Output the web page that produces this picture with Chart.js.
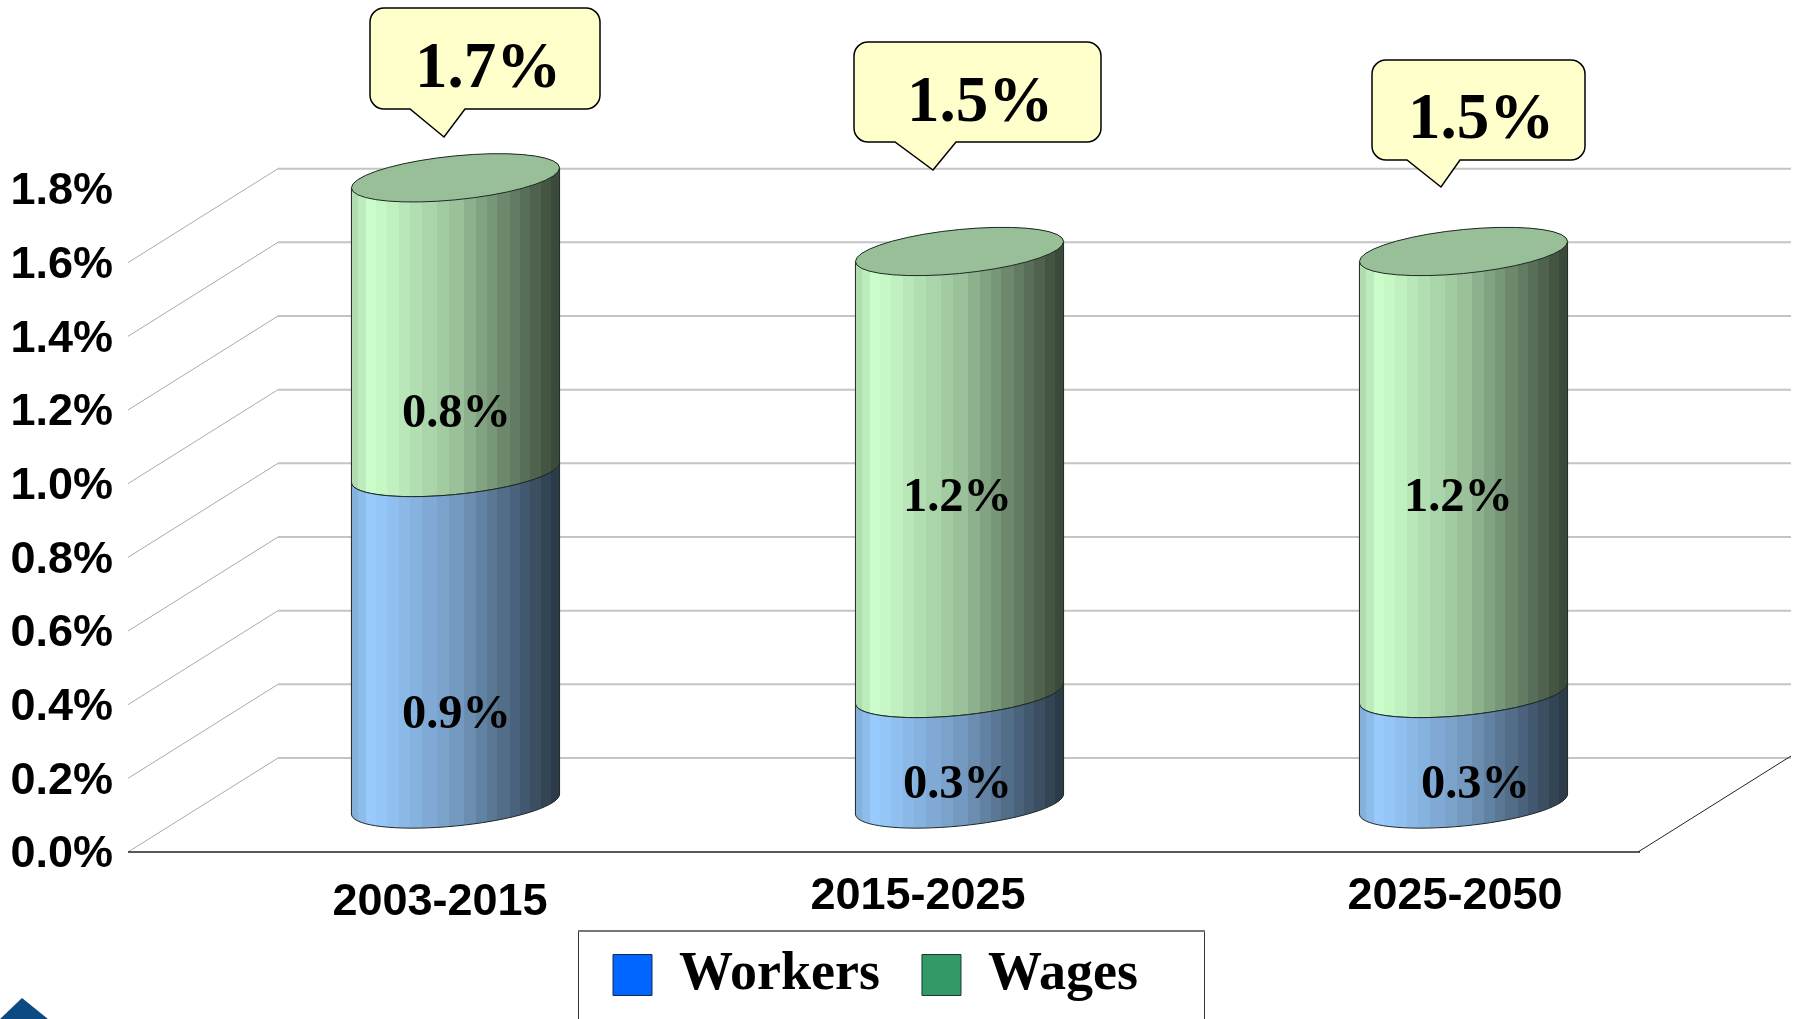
<!DOCTYPE html>
<html><head><meta charset="utf-8">
<style>html,body{margin:0;padding:0;background:#fff}canvas{display:block}</style>
<script src="https://cdn.jsdelivr.net/npm/chart.js@4/dist/chart.umd.js"></script>
</head><body><canvas id="c" width="1800" height="1019"></canvas>
<script>
const periods = ['2003-2015','2015-2025','2025-2050'];
const workers = [0.9,0.3,0.3];
const wages = [0.8,1.2,1.2];
const yTickLabels = ['0.0%','0.2%','0.4%','0.6%','0.8%','1.0%','1.2%','1.4%','1.6%','1.8%'];
const wallLevels = [0,0.2,0.4,0.6,0.8,1.0,1.2,1.4,1.6];

// --- placement and style only ---
const SANS='"Liberation Sans"', SERIF='"Liberation Serif"';
const DEPTH={dx:150,dy:-94}, BAR={dx:75.5,dy:-48,k:10,b:22};
const xLabelNudge=[[60,6],[34,0],[67,0]];
const wagesLabelNudge=[[1,89],[-2,26],[-5,26]];
const workersLabelNudge=[[1,77],[-2,37],[12,37]];
const callouts=[
 {box:[370,8,600,109],tail:[410,465],tip:[444,137],text:[488,70]},
 {box:[854,42,1101,142],tail:[895,956],tip:[933,170],text:[980,104]},
 {box:[1372,60,1585,160],tail:[1407,1460],tip:[1441,187],text:[1481,121]}
];
const PAL=[[153,204,255],[204,255,204]];
const FACETS=[0,.03,.07,.12,.17,.23,.28,.34,.41,.47,.54,.6,.65,.7,.76,.81,.86,.91,.96,1];
function shade(t){const p=[[0,.84],[.1,1],[.5,.76],[1,.27]];for(let i=1;i<p.length;i++){if(t<=p[i][0]){const f=(t-p[i-1][0])/(p[i][0]-p[i-1][0]);return p[i-1][1]+f*(p[i][1]-p[i-1][1]);}}return .27;}
function facetGradient(ctx,l,r,rgb){const g=ctx.createLinearGradient(l,0,r,0);
 for(let i=0;i<FACETS.length-1;i++){const a=FACETS[i],z=FACETS[i+1],s=shade((a+z)/2);
  const c='rgb('+rgb.map(v=>Math.round(v*s)).join(',')+')';g.addColorStop(a,c);g.addColorStop(z,c);}return g;}
function arc(ctx,cx,cy,a,from,to,first){const n=36;for(let i=0;i<=n;i++){const t=from+(to-from)*i/n;
  const px=cx+a*Math.cos(t),py=cy+BAR.b*Math.sin(t)-BAR.k*Math.cos(t);(first&&i===0)?ctx.moveTo(px,py):ctx.lineTo(px,py);}}

Chart.BarElement.prototype.draw=function(ctx){
 const {x,y,base,width}=this.getProps(['x','y','base','width'],true);
 const ds=this.__ds,a=width/2,cx=x+BAR.dx,t=y+BAR.dy,bot=base+BAR.dy;
 ctx.save();
 ctx.beginPath();
 // the lower segment is painted last, so its top edge follows the front of the ring
 if(ds===1) arc(ctx,cx,t,a,Math.PI,2*Math.PI,true);
 else arc(ctx,cx,t,a,Math.PI,0,true);
 arc(ctx,cx,bot,a,0,Math.PI,false);
 ctx.closePath();
 ctx.fillStyle=facetGradient(ctx,cx-a,cx+a,PAL[ds]);ctx.fill();
 ctx.strokeStyle='#1c2a22';ctx.lineWidth=1;
 ctx.beginPath();
 ctx.moveTo(cx-a,t+BAR.k);
 arc(ctx,cx,bot,a,Math.PI,0,false);
 ctx.lineTo(cx+a,t-BAR.k);
 ctx.stroke();
 if(ds===0){ctx.beginPath();arc(ctx,cx,t,a,Math.PI,0,true);ctx.stroke();}
 if(ds===1){ctx.beginPath();arc(ctx,cx,t,a,0,2*Math.PI,true);ctx.closePath();
  ctx.fillStyle='#99BF99';ctx.fill();ctx.stroke();}
 ctx.restore();
};

const scene={id:'scene',
 beforeLayout(chart){const lg=chart.legend;if(!lg||lg.__patched)return;const f=Object.getPrototypeOf(lg).fit;
  lg.fit=function(){f.call(this);this.height=0;};lg.__patched=true;},
 afterLayout(chart){const lg=chart.legend;lg.left=571;lg.right=1400;lg.top=906;lg.bottom=1019;lg.width=829;lg.height=113;},
 beforeDraw(chart){const c=chart.ctx,sx=chart.scales.x,sy=chart.scales.y;
  if(!sx.__moved){sx._labelItems=null;sx.getLabelItems(chart.chartArea).forEach((it,i)=>{it.options.translation[0]+=xLabelNudge[i][0];it.options.translation[1]+=xLabelNudge[i][1];});
   sy._labelItems=null;sy.getLabelItems(chart.chartArea).forEach(it=>{it.options.translation[1]+=3;});sx.__moved=true;}
  [0,1].forEach(d=>chart.getDatasetMeta(d).data.forEach(el=>{el.__ds=d;}));
  // legend frame
  c.save();c.strokeStyle='#333';c.lineWidth=1;c.beginPath();c.moveTo(578.5,1019);c.lineTo(578.5,931);c.moveTo(1204.5,931);c.lineTo(1204.5,1019);c.stroke();
  c.strokeStyle='#777';c.lineWidth=2;c.beginPath();c.moveTo(578,931);c.lineTo(1205,931);c.stroke();
  // corner mark
  c.fillStyle='#0B4A82';c.beginPath();c.moveTo(22,998);c.lineTo(48,1019);c.lineTo(0,1019);c.closePath();c.fill();c.restore();
 },
 beforeDatasetsDraw(chart){const c=chart.ctx,{left,right}=chart.chartArea,y=chart.scales.y;
  c.save();
  wallLevels.forEach(v=>{const py=y.getPixelForValue(v);
   c.strokeStyle='#c4c4c4';c.lineWidth=2;c.beginPath();c.moveTo(left+DEPTH.dx,py+DEPTH.dy);c.lineTo(right+DEPTH.dx+1,py+DEPTH.dy);c.stroke();
   c.strokeStyle='#aaa';c.lineWidth=1;c.beginPath();c.moveTo(left,py);c.lineTo(left+DEPTH.dx,py+DEPTH.dy);c.stroke();});
  const y0=y.getPixelForValue(0);
  c.strokeStyle='#222';c.lineWidth=1.5;c.beginPath();c.moveTo(left,y0);c.lineTo(right,y0);c.stroke();
  c.lineWidth=1;c.beginPath();c.moveTo(right-2,y0);c.lineTo(right+DEPTH.dx+1,y0+DEPTH.dy-2);c.stroke();
  c.restore();
 },
 afterDatasetsDraw(chart){const c=chart.ctx;c.save();c.fillStyle='#000';c.textAlign='center';c.textBaseline='middle';
  c.font='bold 48.5px '+SERIF;
  [[0,workersLabelNudge,workers],[1,wagesLabelNudge,wages]].forEach(([d,nudge,vals])=>{
   chart.getDatasetMeta(d).data.forEach((el,i)=>{const s=el.getProps(['x','y','base'],true);
    c.fillText(vals[i].toFixed(1)+'%',s.x+BAR.dx+nudge[i][0],(s.y+s.base)/2+BAR.dy+nudge[i][1]);});});
  callouts.forEach((o,i)=>{const [l,t,r,b]=o.box,R=14;
   c.beginPath();c.moveTo(l+R,t);c.lineTo(r-R,t);c.arcTo(r,t,r,t+R,R);c.lineTo(r,b-R);c.arcTo(r,b,r-R,b,R);
   c.lineTo(o.tail[1],b);c.lineTo(o.tip[0],o.tip[1]);c.lineTo(o.tail[0],b);
   c.lineTo(l+R,b);c.arcTo(l,b,l,b-R,R);c.lineTo(l,t+R);c.arcTo(l,t,l+R,t,R);c.closePath();
   c.fillStyle='#FFFFCC';c.fill();c.strokeStyle='#000';c.lineWidth=1.5;c.stroke();
   c.fillStyle='#000';c.font='bold 65px '+SERIF;
   c.fillText((workers[i]+wages[i]).toFixed(1)+'%',o.text[0],o.text[1]);});
  c.restore();
 }
};

new Chart(document.getElementById('c'),{
 type:'bar',
 data:{labels:periods,datasets:[
  {label:'Workers',data:workers,backgroundColor:'#0066FF',borderColor:'#1a2a44',borderWidth:1,clip:false},
  {label:'Wages',data:wages,backgroundColor:'#339966',borderColor:'#1a3a2a',borderWidth:1,clip:false}
 ]},
 plugins:[scene],
 options:{
  responsive:false,animation:false,events:[],
  layout:{padding:{left:0,top:189,right:160,bottom:0}},
  datasets:{bar:{barPercentage:0.413,categoryPercentage:1}},
  scales:{
   x:{stacked:true,grid:{display:false},border:{display:false},
      afterFit:s=>{s.height=167;},
      ticks:{color:'#000',font:{family:SANS,weight:'bold',size:45},padding:10,maxRotation:0,autoSkip:false}},
   y:{stacked:true,min:0,max:1.8,grid:{display:false},border:{display:false},
      afterFit:s=>{s.width=128;},
      ticks:{stepSize:0.2,color:'#000',font:{family:SANS,weight:'bold',size:45},padding:7,
             callback:(v,i)=>yTickLabels[i]}}
  },
  plugins:{tooltip:{enabled:false},title:{display:false},
   legend:{display:true,position:'bottom',align:'start',
    labels:{boxWidth:39,boxHeight:41,padding:42,color:'#000',font:{family:SERIF,weight:'bold',size:54}}}}
 }
});
</script></body></html>
